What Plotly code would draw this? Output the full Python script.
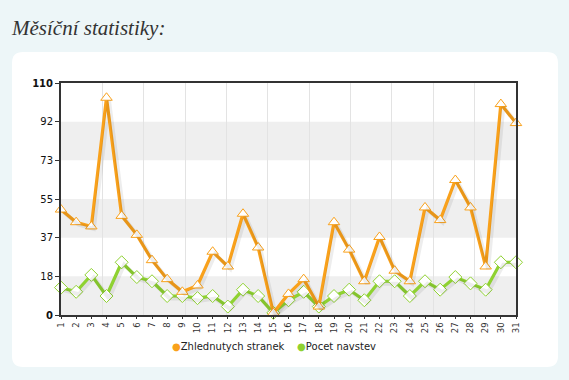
import plotly.graph_objects as go

days = list(range(1, 32))
day_labels = [str(d) for d in days]
pageviews = [50, 44, 42, 103, 47, 38, 26, 17, 11, 14, 30, 23, 48, 32, 1, 10, 17, 4, 44, 31,
             16, 37, 21, 16, 51, 45, 64, 51, 23, 100, 91]
visits = [13, 11, 19, 9, 25, 18, 16, 9, 9, 8, 9, 4, 12, 9, 1, 7, 11, 4, 9, 12,
          7, 16, 16, 9, 16, 12, 18, 15, 12, 25, 25]
series_names = ["Zhlednutych stranek", "Pocet navstev"]
y_max = 110
n_steps = 6
y_ticks = [y_max * i / n_steps for i in range(n_steps + 1)]
y_ticktext = [f"{round(v)}" for v in y_ticks]
y_ticktext[0] = "<b>0</b>"
y_ticktext[-1] = "<b>110</b>"

W, H = 569, 380
ML, MR, MT, MB = 61, 53, 83, 65
PW, PH = W - ML - MR, H - MT - MB

ORANGE = "#f9a11b"
GREEN = "#8fd231"
BG = "#edf6f8"

def px2paper(x, y):
    return (x - ML) / PW, (H - MB - y) / PH

def rounded_rect(x0, y0, x1, y1, r):
    def P(x, y):
        px, py = px2paper(x, y)
        return f"{px:.5f},{py:.5f}"
    path = f"M {P(x0 + r, y0)} L {P(x1 - r, y0)} Q {P(x1, y0)} {P(x1, y0 + r)} "
    path += f"L {P(x1, y1 - r)} Q {P(x1, y1)} {P(x1 - r, y1)} "
    path += f"L {P(x0 + r, y1)} Q {P(x0, y1)} {P(x0, y1 - r)} "
    path += f"L {P(x0, y0 + r)} Q {P(x0, y0)} {P(x0 + r, y0)} Z"
    return path

fig = go.Figure()

# shadows (same data, offset axes)
sx = 2.5 / (PW / 30)
sy = 2.5 / (PH / y_max)
for vals in (pageviews, visits):
    fig.add_trace(go.Scatter(x=days, y=vals, mode="lines", xaxis="x3", yaxis="y3",
                             line=dict(color="rgba(0,0,0,0.07)", width=4),
                             showlegend=False, hoverinfo="skip"))

fig.add_trace(go.Scatter(x=days, y=visits, mode="lines+markers", name=series_names[1],
                         line=dict(color=GREEN, width=3.2), cliponaxis=False,
                         marker=dict(symbol="diamond", size=10, color="white",
                                     line=dict(color=GREEN, width=1)),
                         showlegend=False))
fig.add_trace(go.Scatter(x=days, y=pageviews, mode="lines+markers", name=series_names[0],
                         line=dict(color=ORANGE, width=3.2), cliponaxis=False,
                         marker=dict(symbol="triangle-up", size=10, color="white",
                                     line=dict(color=ORANGE, width=1)),
                         showlegend=False))
# grid helper trace on x2
fig.add_trace(go.Scatter(x=[days[0], days[-1]], y=[0, 0], xaxis="x2", mode="markers",
                         marker=dict(opacity=0), showlegend=False, hoverinfo="skip"))

shapes = []
shapes.append(dict(type="path", path=rounded_rect(12, 52, 558, 367, 11), xref="paper", yref="paper",
                   fillcolor="white", line=dict(width=0), layer="below"))
for i in range(0, n_steps, 2):
    shapes.append(dict(type="rect", xref="paper", yref="y", x0=0, x1=1,
                       y0=y_ticks[i], y1=y_ticks[i + 1], fillcolor="#efefef",
                       line=dict(width=0), layer="below"))

legend_text = "&nbsp;&nbsp;&nbsp;&nbsp;".join(f"<span style='color:{c}'>●</span>{n}"
                                              for n, c in zip(series_names, [ORANGE, GREEN]))

fig.update_layout(
    width=W, height=H,
    margin=dict(l=ML, r=MR, t=MT, b=MB),
    paper_bgcolor=BG, plot_bgcolor="rgba(0,0,0,0)",
    shapes=shapes,
    showlegend=False,
    font=dict(family="DejaVu Sans", color="#222"),
    xaxis=dict(range=[days[0], days[-1]], tickmode="array", tickvals=days, ticktext=day_labels,
               tickangle=-90, tickfont=dict(size=8.5, color="#333"), showgrid=False,
               showline=True, linecolor="#333", linewidth=2, mirror=True,
               ticks="outside", ticklen=2, tickcolor="#333", zeroline=False),
    xaxis2=dict(overlaying="x", range=[days[0], days[-1]], tick0=days[0], dtick=(days[-1] - days[0]) / 11,
                showticklabels=False, showgrid=True, gridcolor="#e3e3e3", gridwidth=1,
                zeroline=False, showline=False),
    xaxis3=dict(overlaying="x", range=[days[0] - sx, days[-1] - sx], visible=False),
    yaxis=dict(range=[0, y_max], tickmode="array", tickvals=y_ticks, ticktext=y_ticktext,
               tickfont=dict(size=10, color="#111"), showgrid=False, zeroline=False,
               showline=True, linecolor="#333", linewidth=2, mirror=True,
               ticks="outside", ticklen=4, tickcolor="#333"),
    yaxis3=dict(overlaying="y", range=[0 + sy, y_max + sy], visible=False),
    annotations=[
        dict(text="<i>Měsíční statistiky:</i>", xref="paper", yref="paper",
             x=px2paper(9, 0)[0], y=px2paper(0, 28)[1], xanchor="left", yanchor="middle",
             showarrow=False, font=dict(family="Liberation Serif", size=21, color="#333")),
        dict(text=legend_text, xref="paper", yref="paper",
             x=px2paper(274, 0)[0], y=px2paper(0, 346)[1], xanchor="center", yanchor="middle",
             showarrow=False, font=dict(family="DejaVu Sans", size=10, color="#222")),
    ],
)

fig.write_html("out.html", config={"displayModeBar": False},
               post_script="document.body.style.margin='0';document.body.style.background='%s';" % BG)
